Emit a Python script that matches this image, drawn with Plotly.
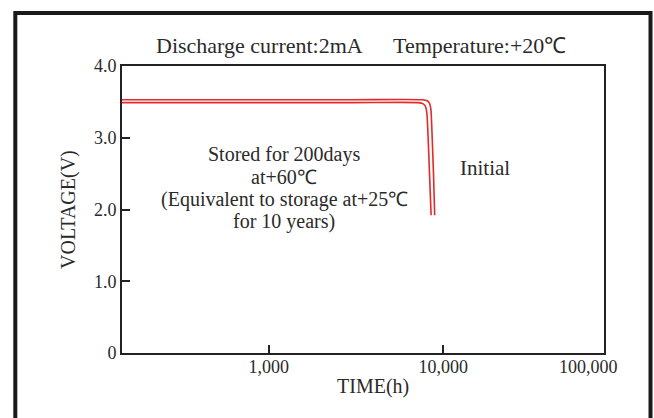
import plotly.graph_objects as go
import numpy as np

# Data
stored_time = [144, 3000, 7200, 7650, 7900, 8050, 8200, 8350, 8530]
stored_volt = [3.49, 3.49, 3.49, 3.475, 3.44, 3.36, 3.0, 2.5, 1.92]
initial_time = [144, 3000, 7600, 8100, 8350, 8500, 8650, 8800, 8940]
initial_volt = [3.53, 3.53, 3.53, 3.515, 3.48, 3.40, 3.0, 2.5, 1.92]

x_tick_vals = [1000, 10000]
x_tick_text = ["1,000", "10,000"]
y_tick_vals = [0, 1, 2, 3, 4]
y_tick_text = ["0", "1.0", "2.0", "3.0", "4.0"]
note_lines = ["Stored for 200days", "at+60\u2103",
              "(Equivalent to storage at+25\u2103", "for 10 years)"]

FONT = "Liberation Serif"
TXT = "#2a2a2a"
RED = "#e32a2a"

# plot area in pixels: left 122, right 604, top 66, bottom 353
L, R, T, B = 122, 604, 66, 353
def px(x):
    return (x - L) / (R - L)
def py(y):
    return (B - y) / (B - T)

fig = go.Figure()
fig.add_trace(go.Scatter(x=stored_time, y=stored_volt, mode="lines",
                         line=dict(color=RED, width=1.6, shape="spline", smoothing=0.6),
                         showlegend=False))
fig.add_trace(go.Scatter(x=initial_time, y=initial_volt, mode="lines",
                         line=dict(color=RED, width=1.6, shape="spline", smoothing=0.6),
                         showlegend=False))

fig.update_layout(
    width=654, height=418,
    margin=dict(l=L, r=654 - R, t=T, b=418 - B),
    paper_bgcolor="white", plot_bgcolor="white",
    font=dict(family=FONT, size=18, color=TXT),
    showlegend=False,
)
fig.update_xaxes(type="log", range=[np.log10(144), np.log10(83600)],
                 tickvals=x_tick_vals, ticktext=x_tick_text,
                 ticks="inside", ticklen=8, tickwidth=1.5, tickcolor="#222",
                 ticklabelstandoff=-4,
                 showline=True, linecolor="#222", linewidth=2, mirror=True,
                 showgrid=False, zeroline=False,
                 tickfont=dict(family=FONT, size=18, color=TXT))
fig.update_yaxes(range=[0, 4], tickvals=y_tick_vals, ticktext=y_tick_text,
                 ticks="inside", ticklen=8, tickwidth=1.5, tickcolor="#222",
                 showline=True, linecolor="#222", linewidth=2, mirror=True,
                 showgrid=False, zeroline=False,
                 tickfont=dict(family=FONT, size=18, color=TXT))

def ann(x, y, text, size=18, xanchor="center", **kw):
    fig.add_annotation(x=x, y=y, text=text, xref="paper", yref="paper",
                       xanchor=xanchor, yanchor="middle", showarrow=False,
                       font=dict(family=FONT, size=size, color=TXT), **kw)

ann(px(588.5), py(366.5), "100,000", 18)
ann(px(373), py(386), "TIME(h)", 20)
ann(px(68), py(210), "VOLTAGE(V)", 20, textangle=-90)
ann(px(154), py(46), "Discharge current:2mA", 22, xanchor="left")
ann(px(391), py(46), "Temperature:+20\u2103", 22, xanchor="left")
for line, yy in zip(note_lines, [154, 176.5, 199, 221.5]):
    ann(px(284), py(yy), line, 20)
ann(px(485), py(168), "Initial", 21)

fig.add_shape(type="rect", xref="paper", yref="paper",
              x0=px(15.3), x1=px(650.5), y0=py(480), y1=py(13),
              line=dict(color="#1a1a1a", width=4), layer="above")

fig.write_html("out.html", post_script="document.body.style.margin='0';",
               config={"displayModeBar": False})
